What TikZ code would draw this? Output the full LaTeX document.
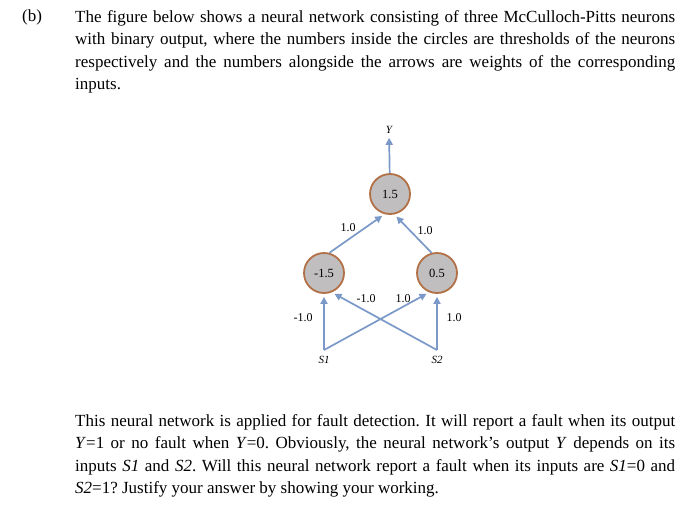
\documentclass[tikz,border=0pt]{standalone}
\usepackage{fontspec}
\setmainfont{Liberation Serif}
\usetikzlibrary{arrows.meta, positioning}

\definecolor{wireblue}{RGB}{122,152,200}
\definecolor{ringbrown}{RGB}{178,112,70}
\definecolor{cellgrey}{RGB}{192,190,190}

\begin{document}
\frenchspacing
\begin{tikzpicture}[
    x=1pt, y=-1pt,
    neuron/.style={draw=ringbrown, fill=cellgrey, circle, line width=1.8pt, minimum size=40pt, inner sep=0pt, font=\fontsize{12.5}{14}\selectfont},
    wire/.style={-{Triangle[length=7pt, width=7pt]}, draw=wireblue, line width=1.7pt, shorten >=3pt},
    weight/.style={font=\fontsize{12}{14}\selectfont, inner sep=1pt},
    port/.style={font=\fontsize{11}{12}\selectfont\itshape, inner sep=1pt},
    para/.style={anchor=north west, text width=600pt, align=justify, inner sep=0pt, font=\fontsize{17}{22.5}\selectfont}
]
\useasboundingbox (0,0) rectangle (700,514);

% question text
\node[anchor=north west, inner sep=0pt, font=\fontsize{17}{22.5}\selectfont] (part) at (22,10) {(b)};
\node[para] (intro) at (75,10) {The figure below shows a neural network consisting of three McCulloch-Pitts neurons\linebreak
with binary output, where the numbers inside the circles are thresholds of the neurons\linebreak
respectively and the numbers alongside the arrows are weights of the corresponding\linebreak
inputs.};

% neurons
\node[neuron] (top) at (390,194) {1.5};
\node[neuron] (left) at (324,273) {-1.5};
\node[neuron] (right) at (437,273) {0.5};

% inputs and output
\coordinate (s1) at (324,350);
\coordinate (s2) at (437,350);
\node[port, below=5pt of s1] (S1) {S1};
\node[port, below=5pt of s2] (S2) {S2};
\node[port] (Y) at (389,130) {Y};

% arrows
\draw[wire] (top) -- (Y);
\draw[wire] (left.75) -- (top.-105);
\draw[wire] (right.105) -- (top.-78);
\draw[wire] (s1) -- (left.south);
\draw[wire] (s2) -- (right.south);
\draw[wire] (s2) -- (left.-68);
\draw[wire] (s1) -- (right.-112);

% weights
\node[weight] (w1t) at (348,228) {1.0};
\node[weight] (w2t) at (425,231) {1.0};
\node[weight] (w11) at (303,318) {-1.0};
\node[weight] (w21) at (366,299) {-1.0};
\node[weight] (w12) at (403,299) {1.0};
\node[weight] (w22) at (454,318) {1.0};

% question text, second part
\node[para] (task) at (75,414) {This neural network is applied for fault detection. It will report a fault when its output\linebreak
\textit{Y}=1 or no fault when \textit{Y}=0. Obviously, the neural network's output \textit{Y} depends on its\linebreak
inputs \textit{S1} and \textit{S2}. Will this neural network report a fault when its inputs are \textit{S1}=0 and\linebreak
\textit{S2}=1? Justify your answer by showing your working.};

\end{tikzpicture}
\end{document}
